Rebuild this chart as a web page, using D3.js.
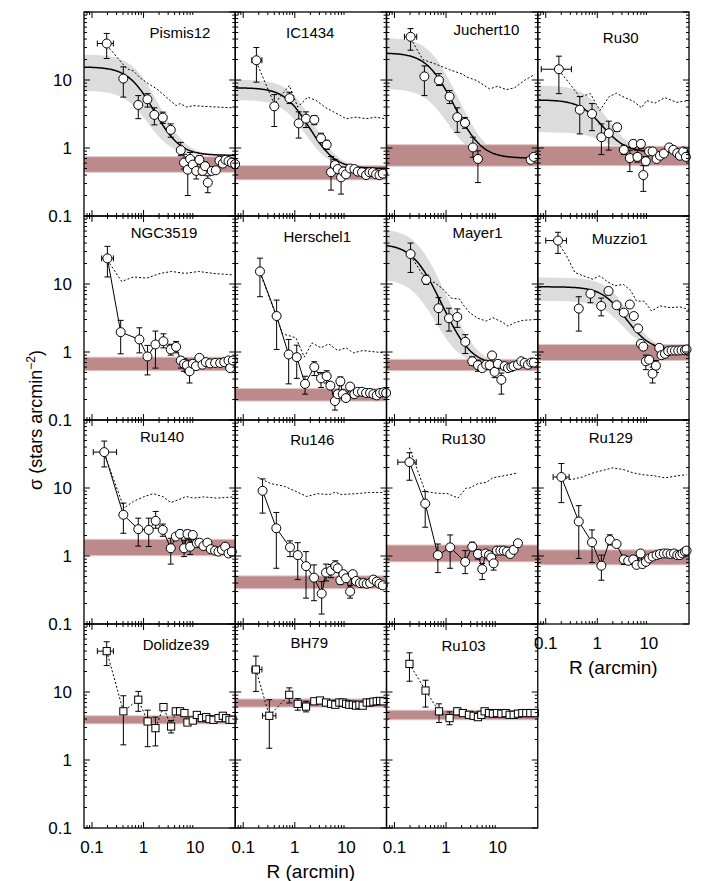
<!DOCTYPE html>
<html lang="en">
<head>
<meta charset="utf-8">
<title>Radial density profiles</title>
<style>
	body {
		margin: 0;
		background: #fff;
		font-family: Arial, "Liberation Sans", Helvetica, sans-serif;
	}
	.border { fill: none; stroke: black; stroke-width: 1.3; }
	.tick { stroke: black; stroke-width: 1; }
	.err { stroke: black; stroke-width: 1; fill: none; }
</style>
</head>
<body>
<div id="chart"></div>
<script src="https://cdn.jsdelivr.net/npm/d3@7"></script>
<script>

// cluster names, one panel each
var clusterNames = ["Pismis12", "IC1434", "Juchert10", "Ru30",
	"NGC3519", "Herschel1", "Mayer1", "Muzzio1",
	"Ru140", "Ru146", "Ru130", "Ru129",
	"Dolidze39", "BH79", "Ru103"];

// how each profile is drawn: King fit, joined points, or squares
var profileStyle = ["fit", "fit", "fit", "fit",
	"line", "line", "fit", "fit",
	"line", "line", "line", "line",
	"square", "square", "square"];

// radial bins R (arcmin)
var pointR = [
	[0.193, 0.405, 0.79, 1.19, 1.62, 2.36, 3.37, 5.27, 6.1, 7.2, 8.0, 9.0, 10.5, 12.1, 13.9, 15.6, 17.6, 21, 25.2, 29.7, 34.4, 38.8, 44.4, 51.5, 59.7],
	[0.18, 0.40, 0.79, 1.19, 1.65, 2.39, 3.22, 4.15, 5.04, 6.0, 6.8, 7.9, 8.7, 9.8, 11.8, 14.3, 16.6, 20.1, 24.1, 28, 32.5, 37.7, 43.8, 50.8],
	[0.205, 0.38, 0.73, 1.17, 1.65, 2.33, 3.32, 4.15, 43.8, 50],
	[0.18, 0.457, 0.79, 1.2, 1.67, 2.43, 3.27, 4.27, 4.96, 6.0, 7.0, 7.8, 8.7, 10.1, 11.8, 14.1, 16.4, 19.5, 24.8, 29.7, 35.5, 40, 46.4, 52.3],
	[0.199, 0.36, 0.83, 1.19, 1.7, 2.43, 3.37, 4.27, 5.27, 6.1, 6.9, 7.8, 9.0, 10.4, 12.1, 13.9, 16.1, 19.5, 24.4, 30.6, 36.6, 44.4, 47.8, 53.9],
	[0.211, 0.444, 0.76, 1.09, 1.58, 2.39, 3.22, 4.15, 4.89, 6.0, 6.8, 7.65, 8.5, 9.8, 11.8, 14.3, 16.6, 20.1, 24.1, 28.8, 33.4, 38.8, 45, 52.3, 59],
	[0.205, 0.412, 0.715, 1.14, 1.65, 2.36, 3.22, 4.15, 5.03, 6.0, 7.0, 7.8, 8.75, 10.1, 11.8, 13.7, 15.9, 18.4, 20.4, 24.8, 28.8, 33.4, 38.8, 45, 50],
	[0.173, 0.437, 0.736, 1.19, 1.65, 2.36, 3.27, 4.27, 5.1, 6.2, 7.0, 7.8, 8.75, 10.1, 11.8, 13.7, 15.9, 17.6, 20.5, 23.7, 27.6, 32, 37.1, 43, 50, 53.9],
	[0.173, 0.406, 0.79, 1.26, 1.72, 2.36, 3.37, 4.22, 5.1, 6.1, 7.1, 8.0, 9.0, 10.8, 12.1, 14.5, 17.3, 20.1, 24.4, 28.4, 33, 38.2, 44.4, 51.5],
	[0.237, 0.438, 0.806, 1.14, 1.65, 2.36, 3.32, 4.03, 5.03, 6.1, 6.8, 7.65, 8.75, 9.86, 11.8, 13.3, 15.4, 18.4, 21.4, 24.8, 28.8, 33.4, 38.8, 43.8, 50.8],
	[0.195, 0.394, 0.694, 1.2, 2.35, 3.22, 4.15, 5.03, 5.85, 6.8, 7.5, 8.37, 9.7, 11.3, 13.1, 15.2, 17.6, 20.4, 24.8],
	[0.201, 0.437, 0.79, 1.2, 1.75, 2.36, 3.27, 3.97, 4.96, 5.77, 6.9, 7.5, 8.75, 10.1, 11.8, 14.1, 16.4, 19.5, 22.7, 26.4, 30.6, 35.5, 40, 45, 50, 53.9],
	[0.193, 0.406, 0.79, 1.2, 1.7, 2.43, 3.42, 4.22, 5.1, 6.2, 7.1, 9.0, 10.8, 13.5, 16.4, 19, 22.7, 28.4, 34.4, 40, 46.4, 53],
	[0.176, 0.32, 0.78, 1.14, 1.65, 2.39, 3.08, 4.03, 5.04, 6.1, 7.3, 8.5, 9.9, 11.4, 13.3, 15.4, 17.9, 20.7, 24.8, 28.8, 33.4, 38.8, 45, 52.3],
	[0.195, 0.4, 0.73, 1.17, 1.65, 2.12, 2.78, 3.42, 4.15, 4.82, 5.6, 6.8, 8.1, 9.7, 11.8, 14.3, 17.1, 20.5, 24.8, 30.1, 36, 43, 52.3]
];

// stellar density sigma (stars arcmin^-2)
var pointS = [
	[34.4, 10.5, 4.3, 5.2, 3.07, 2.8, 1.85, 0.93, 0.61, 0.48, 0.69, 0.57, 0.46, 0.67, 0.46, 0.54, 0.31, 0.46, 0.47, 0.65, 0.59, 0.67, 0.64, 0.61, 0.58],
	[19.5, 4.1, 5.4, 2.3, 2.7, 2.6, 1.39, 1.12, 0.44, 0.56, 0.49, 0.37, 0.45, 0.41, 0.5, 0.49, 0.45, 0.44, 0.40, 0.44, 0.44, 0.41, 0.40, 0.42],
	[43.2, 11.3, 9.9, 5.7, 2.84, 2.34, 1.02, 0.69, 0.67, 0.74],
	[14.4, 3.65, 3.18, 1.44, 1.65, 2.02, 0.94, 0.71, 1.15, 0.74, 1.15, 0.40, 0.64, 0.89, 0.89, 0.69, 0.77, 0.83, 1.02, 0.94, 0.84, 0.77, 0.89, 0.74],
	[23.8, 1.96, 1.53, 0.86, 1.29, 1.44, 1.09, 1.19, 0.75, 0.67, 0.64, 0.52, 0.67, 0.62, 0.82, 0.65, 0.71, 0.68, 0.69, 0.69, 0.71, 0.75, 0.58, 0.75],
	[15.3, 3.38, 0.92, 0.84, 0.34, 0.6, 0.41, 0.44, 0.32, 0.19, 0.24, 0.37, 0.24, 0.21, 0.31, 0.24, 0.26, 0.26, 0.25, 0.25, 0.24, 0.23, 0.25, 0.255, 0.25],
	[27.6, 11.5, 4.4, 3.13, 3.27, 1.41, 0.73, 0.64, 0.58, 0.65, 0.64, 0.89, 0.51, 0.67, 0.39, 0.62, 0.58, 0.6, 0.62, 0.65, 0.73, 0.69, 0.65, 0.7, 0.7],
	[43.5, 4.35, 7.2, 4.75, 7.9, 4.87, 3.79, 5.0, 3.38, 2.22, 1.32, 1.2, 0.73, 0.77, 0.48, 0.63, 1.15, 0.9, 0.94, 1.03, 1.05, 1.05, 1.05, 1.06, 1.06, 1.09],
	[33.7, 4.04, 2.48, 2.42, 3.29, 2.42, 1.3, 1.93, 2.11, 1.3, 2.11, 1.37, 2.04, 1.54, 1.57, 1.4, 1.57, 1.26, 1.2, 1.16, 1.23, 1.37, 1.09, 1.16],
	[9.1, 2.56, 1.34, 1.03, 0.71, 0.48, 0.28, 0.57, 0.61, 0.71, 0.66, 0.44, 0.54, 0.47, 0.3, 0.54, 0.43, 0.40, 0.40, 0.39, 0.40, 0.45, 0.42, 0.39, 0.37],
	[24, 5.9, 1.03, 1.34, 0.82, 1.37, 1.07, 0.64, 1.09, 1.03, 0.95, 0.78, 1.2, 1.2, 1.2, 1.16, 1.07, 1.23, 1.54],
	[14.5, 3.22, 1.59, 0.72, 1.72, 1.5, 0.89, 0.85, 0.89, 0.74, 1.09, 0.76, 0.82, 0.92, 0.98, 1.03, 1.07, 1.09, 1.09, 1.07, 1.09, 1.03, 1.03, 1.09, 1.16, 1.2],
	[39.9, 5.2, 7.7, 3.69, 2.94, 6.0, 3.11, 5.2, 5.2, 4.9, 3.56, 3.8, 4.6, 4.13, 4.27, 4.0, 3.9, 4.13, 4.47, 4.13, 3.9, 3.9],
	[21.4, 4.47, 9.1, 6.7, 6.1, 7.3, 7.5, 7.0, 6.7, 6.5, 7.0, 7.0, 6.7, 6.5, 6.5, 6.3, 6.5, 6.3, 7.0, 7.0, 7.2, 7.3, 7.4, 7.3],
	[25.9, 10.5, 5.2, 4.13, 5.2, 4.9, 4.62, 4.47, 4.27, 4.62, 5.2, 4.9, 4.8, 4.9, 4.8, 4.9, 4.62, 4.62, 4.8, 4.9, 4.9, 4.9, 4.9]
];

// visible error bars: [point index, low, high]
var errBars = [
	[[0, 20.7, 48.4], [1, 5.6, 15.6], [2, 2.7, 5.9], [3, 4.0, 6.3], [4, 2.19, 3.9], [5, 2.3, 3.37], [6, 1.44, 2.26], [7, 0.77, 1.21], [8, 0.49, 0.81], [9, 0.2, 0.73], [10, 0.55, 0.86], [11, 0.47, 0.68], [12, 0.35, 0.59], [13, 0.58, 0.77], [14, 0.4, 0.53], [15, 0.47, 0.62], [16, 0.22, 0.39]],
	[[0, 9.3, 30], [1, 2.07, 6.1], [2, 4.5, 6.6], [3, 1.4, 3.4], [4, 2.0, 3.4], [5, 2.2, 3.0], [6, 1.21, 1.65], [7, 0.95, 1.3], [8, 0.24, 0.75], [9, 0.47, 0.68], [11, 0.21, 0.49], [12, 0.38, 0.52]],
	[[0, 27.4, 57], [1, 5.9, 16.1], [2, 8.3, 12.4], [3, 4.5, 7.0], [4, 1.7, 3.9], [5, 1.95, 2.8], [6, 0.73, 1.44], [7, 0.31, 0.91]],
	[[0, 6.3, 22.4], [1, 1.61, 5.7], [2, 1.8, 4.5], [3, 0.8, 2.26], [4, 0.93, 2.48], [5, 1.75, 2.3], [6, 0.8, 1.1], [7, 0.45, 0.93], [8, 1.0, 1.3], [9, 0.62, 0.93], [10, 0.98, 1.3], [11, 0.23, 0.55], [12, 0.55, 0.75]],
	[[0, 12.7, 35.8], [1, 0.94, 2.92], [2, 0.97, 2.27], [3, 0.46, 1.25], [4, 0.58, 2.03], [5, 1.15, 1.85], [6, 0.9, 1.3], [7, 0.97, 1.43], [8, 0.58, 0.84], [9, 0.52, 0.8], [10, 0.5, 0.76], [11, 0.35, 0.62]],
	[[0, 6.5, 24], [1, 1.09, 5.8], [2, 0.34, 1.53], [3, 0.41, 1.26], [4, 0.24, 0.44], [5, 0.45, 0.72], [6, 0.3, 0.5], [7, 0.35, 0.53], [9, 0.14, 0.235], [11, 0.32, 0.43]],
	[[0, 14.8, 40], [1, 9.9, 13.5], [2, 2.55, 6.3], [3, 2.03, 4.4], [4, 2.3, 4.3], [5, 0.95, 1.8], [6, 0.64, 0.85], [7, 0.52, 0.76], [10, 0.56, 0.74], [11, 0.8, 0.98], [12, 0.42, 0.62], [13, 0.58, 0.75], [14, 0.24, 0.49]],
	[[0, 28.2, 57.6], [1, 2.03, 6.5], [2, 5.3, 8.1], [3, 3.4, 6.2], [4, 6.9, 8.9], [12, 0.55, 0.9], [14, 0.35, 0.6], [15, 0.5, 0.75]],
	[[0, 20.4, 49], [1, 2.16, 6.0], [2, 1.4, 3.6], [3, 1.38, 3.6], [4, 2.56, 4.52], [5, 1.95, 2.95], [6, 0.76, 1.82], [8, 1.85, 2.4], [9, 0.98, 1.7], [10, 1.8, 2.4], [11, 1.05, 1.75]],
	[[0, 4.27, 13.6], [1, 0.66, 4.37], [2, 0.98, 1.67], [3, 0.45, 1.57], [4, 0.24, 1.16], [5, 0.22, 0.74], [6, 0.14, 0.42], [7, 0.43, 0.76], [8, 0.48, 0.75], [9, 0.57, 0.85], [11, 0.38, 0.5], [14, 0.24, 0.37]],
	[[0, 13, 33], [1, 2.65, 8.9], [2, 0.57, 1.5], [3, 0.66, 2.04], [4, 0.55, 1.2], [5, 1.2, 1.6], [6, 0.9, 1.25], [7, 0.45, 0.78], [11, 0.62, 0.95]],
	[[0, 6.1, 22.9], [1, 0.92, 5.5], [2, 0.8, 2.42], [3, 0.44, 1.03], [4, 1.45, 2.05], [6, 0.75, 1.02], [8, 0.75, 1.0]],
	[[0, 24.5, 54.8], [1, 1.67, 8.8], [2, 5.2, 10.2], [3, 1.57, 5.4], [4, 1.61, 4.27], [5, 5.5, 6.5], [6, 2.5, 3.8]],
	[[0, 10.2, 33.7], [1, 1.49, 7.7], [2, 6.9, 11.5], [3, 5.4, 8.0], [4, 5.1, 7.3]],
	[[0, 14.4, 37.7], [1, 6.0, 14.9], [2, 3.56, 6.7], [3, 3.3, 5.1], [4, 4.6, 5.8]]
];

// horizontal (bin width) bars: [point index, low R, high R]
var xErrBars = [
	[[0, 0.127, 0.26]], [[0, 0.147, 0.23]], [[0, 0.156, 0.27]], [[0, 0.082, 0.315]],
	[[0, 0.154, 0.26]], [[0, 0.19, 0.235]], [[0, 0.18, 0.232]], [[0, 0.1, 0.252]],
	[[0, 0.106, 0.3]], [], [[0, 0.116, 0.264]], [[0, 0.139, 0.284]],
	[[0, 0.127, 0.26]], [[0, 0.147, 0.23], [1, 0.237, 0.43]], []
];

// dotted comparison profile
var dotR = [
	[0.193, 0.471, 0.635, 0.855, 1.24, 1.8, 2.43, 3.27, 4.28, 5.1, 6.9, 9.3, 14.5, 26.4, 55.5],
	[0.18, 0.4, 0.78, 1.14, 1.78, 2.58, 4.03, 6.3, 9.9, 15.4, 24.1, 37.7, 54.7],
	[0.205, 0.355, 0.644, 1.17, 2.12, 2.46, 3.85, 7.0, 10.1, 14.7, 21.4, 33.4, 52.3],
	[0.18, 0.292, 0.457, 0.736, 1.12, 1.7, 2.36, 3.42, 4.96, 7.2, 9.0, 13.1, 20.5, 34.4, 60],
	[0.199, 0.377, 0.635, 1.15, 2.09, 3.52, 6.4, 11.6, 22.7, 55.5],
	[0.211, 0.444, 0.58, 1.05, 1.53, 2.15, 3.22, 4.54, 6.8, 9.9, 13.7, 20.7, 37.7, 54.7],
	[0.205, 0.412, 0.6, 0.87, 1.26, 1.83, 2.12, 2.86, 4.15, 6.0, 8.1, 11.8, 15.9, 21.4, 31, 52.3],
	[0.173, 0.252, 0.366, 0.531, 0.806, 1.12, 1.55, 2.19, 3.18, 4.4, 5.77, 8.1, 11.3, 16.4, 25.6, 40, 60],
	[0.173, 0.418, 0.635, 0.99, 1.55, 2.43, 3.37, 4.75, 6.7, 9.3, 14.5, 26.4, 55.5],
	[0.19, 0.237, 0.344, 0.625, 1.05, 1.7, 2.77, 4.68, 6.1, 7.9, 15.4, 28, 54.7],
	[0.195, 0.394, 0.644, 1.09, 1.7, 2.46, 2.86, 4.15, 6.0, 8.1, 11.8, 17.1, 24.8],
	[0.201, 0.315, 0.515, 0.83, 1.3, 1.97, 3.18, 4.96, 7.5, 12.1, 20.5, 32, 53.9],
	null, null, null
];
var dotS = [
	[32.5, 14.7, 13.6, 10.8, 8.8, 7.4, 6.1, 5.0, 4.2, 4.5, 4.0, 4.2, 4.1, 4.0, 3.9],
	[18.5, 4.4, 8.3, 4.0, 5.6, 5.0, 3.9, 3.25, 2.7, 2.84, 2.7, 2.84, 2.7],
	[40.8, 20, 17, 14.2, 12.1, 11.1, 9.9, 7.4, 8.1, 7.2, 7.7, 9.9, 12.1],
	[13.9, 8.8, 5.6, 6.3, 3.56, 5.7, 6.4, 5.5, 4.9, 3.9, 5.0, 4.57, 5.5, 4.7, 5.0],
	[22.5, 10.9, 12.7, 12.2, 14.3, 15.3, 14.3, 15.3, 14.3, 13.6],
	[14.8, 3.27, 1.85, 1.62, 0.84, 1.36, 1.15, 1.32, 1.05, 1.15, 0.97, 1.05, 1.0, 0.97],
	[26.1, 11.4, 10.5, 8.4, 6.2, 6.0, 5.0, 3.79, 3.13, 2.85, 3.19, 2.79, 2.4, 2.7, 2.92, 3.0],
	[41, 26.1, 14.8, 13.2, 11.8, 13.2, 10.9, 9.4, 9.9, 8.1, 5.6, 5.6, 4.0, 4.75, 4.5, 4.6, 4.2],
	[32.2, 5.06, 6.35, 7.4, 8.25, 7.4, 6.1, 6.7, 7.5, 7.1, 7.4, 7.1, 7.4],
	[14.4, 13.3, 11.6, 10.6, 8.9, 7.5, 8.25, 8.0, 8.7, 8.0, 8.25, 8.6, 8.6],
	[39, 8.9, 8.4, 8.25, 7.1, 10, 10, 11.6, 12.1, 14.1, 14.9, 15.7, 16.7],
	[14.5, 13.3, 14.5, 16.7, 18.2, 19.8, 18.7, 16.7, 15.7, 15.2, 14.1, 14.9, 15.7],
	null, null, null
];

// background density level (low, high)
var bgBand = [
	[0.44, 0.745], [0.34, 0.55], [0.54, 1.12], [0.55, 1.06],
	[0.53, 0.84], [0.19, 0.29], [0.53, 0.78], [0.75, 1.29],
	[1.01, 1.76], [0.33, 0.51], [0.82, 1.45], [0.74, 1.23],
	[3.4, 4.47], [6.0, 7.9], [3.9, 5.4]
];

// King fits: [sigma0, Rc, sigmaBg, sigma0 high, Rc high, sigma0 low, Rc low]
var kingFit = [
	[14.8, 0.76, 0.78, 22.9, 0.85, 6.2, 0.7],
	[7.2, 0.98, 0.5, 9.6, 1.1, 4.6, 0.9],
	[24.3, 0.59, 0.71, 41, 0.62, 6.7, 0.6],
	[4.24, 0.81, 0.86, 7.45, 0.9, 0.85, 1.2],
	null, null,
	[38, 0.3, 0.65, 64, 0.33, 11.2, 0.3],
	[8.05, 2.1, 1.05, 11.4, 2.3, 4.6, 2.0],
	null, null, null, null, null, null, null
];

var xTickLabels = [0.1, 1, 10];
var yTickLabels = [0.1, 1, 10];

// layout
var width = 702, height = 881;
var left = 84, top0 = 12, pw = 151.25, ph = 204;
var labelDx = [96, 75, 100, 83, 80, 82, 91, 82, 78, 77, 77, 73, 92, 74, 77];
var labelDy = [26, 26, 23, 31, 22, 26, 22, 28, 22, 25, 24, 23, 26, 24, 27];

var x = d3.scaleLog().domain([0.07, 60]).range([0, pw]);
var y = d3.scaleLog().domain([0.1, 100]).range([ph, 0]);

var svg = d3.select("#chart").append("svg")
	.attr("width", width)
	.attr("height", height);
var defs = svg.append("defs");

function panelX(k) { return left + (k % 4) * pw; }
function panelY(k) { return top0 + Math.floor(k / 4) * ph; }

function king(s0, rc, bg, r) {
	return bg + s0 / (1 + (r / rc) * (r / rc));
}

// sample radii for the model curves
var curveR = d3.range(0, 161).map(function(i) {
	return 0.07 * Math.pow(60 / 0.07, i / 160);
});

var line = d3.line()
	.x(function(d) { return x(d[0]); })
	.y(function(d) { return y(d[1]); });

var layerBack = svg.append("g");
var layerData = svg.append("g");
var layerFrame = svg.append("g");

clusterNames.forEach(function(name, k) {
	var tx = panelX(k), ty = panelY(k);

	defs.append("clipPath").attr("id", "clip" + k)
		.append("rect").attr("width", pw).attr("height", ph);

	var back = layerBack.append("g")
		.attr("transform", "translate(" + tx + "," + ty + ")")
		.attr("clip-path", "url(#clip" + k + ")");

	var fit = kingFit[k];
	if (fit) {
		var area = d3.area()
			.x(function(r) { return x(r); })
			.y0(function(r) { return y(king(fit[5], fit[6], fit[2], r)); })
			.y1(function(r) { return y(king(fit[3], fit[4], fit[2], r)); });
		back.append("path").attr("d", area(curveR)).attr("fill", "#dcdcdc");
	}

	var band = bgBand[k];
	back.append("rect")
		.attr("x", 0).attr("width", pw)
		.attr("y", y(band[1])).attr("height", y(band[0]) - y(band[1]))
		.attr("fill", "#bc8a8a")
		.attr("stroke", "#e2c9c9").attr("stroke-width", 1);

	if (fit) {
		back.append("path")
			.attr("d", line(curveR.map(function(r) { return [r, king(fit[0], fit[1], fit[2], r)]; })))
			.attr("fill", "none").attr("stroke", "black").attr("stroke-width", 1.5);
	}

	var g = layerData.append("g").attr("transform", "translate(" + tx + "," + ty + ")");
	var pts = pointR[k].map(function(r, i) { return [r, pointS[k][i]]; });

	if (dotR[k]) {
		g.append("path")
			.attr("d", line(dotR[k].map(function(r, i) { return [r, dotS[k][i]]; })))
			.attr("fill", "none").attr("stroke", "black").attr("stroke-width", 1)
			.attr("stroke-dasharray", "2,2");
	}
	if (profileStyle[k] == "line") {
		g.append("path").attr("d", line(pts))
			.attr("fill", "none").attr("stroke", "black").attr("stroke-width", 1);
	}
	if (profileStyle[k] == "square") {
		g.append("path").attr("d", line(pts))
			.attr("fill", "none").attr("stroke", "black").attr("stroke-width", 1)
			.attr("stroke-dasharray", "2,2");
	}

	errBars[k].forEach(function(e) {
		var cx = x(pointR[k][e[0]]);
		g.append("path").attr("class", "err")
			.attr("d", "M" + cx + "," + y(e[1]) + "V" + y(e[2]) +
				"M" + (cx - 3) + "," + y(e[1]) + "h6" +
				"M" + (cx - 3) + "," + y(e[2]) + "h6");
	});
	xErrBars[k].forEach(function(e) {
		var cy = y(pointS[k][e[0]]);
		g.append("path").attr("class", "err")
			.attr("d", "M" + x(e[1]) + "," + cy + "H" + x(e[2]) +
				"M" + x(e[1]) + "," + (cy - 3) + "v6" +
				"M" + x(e[2]) + "," + (cy - 3) + "v6");
	});

	if (profileStyle[k] == "square") {
		g.selectAll("rect.pt").data(pts).enter().append("rect")
			.attr("x", function(d) { return x(d[0]) - 3.6; })
			.attr("y", function(d) { return y(d[1]) - 3.6; })
			.attr("width", 7.2).attr("height", 7.2)
			.attr("fill", "white").attr("stroke", "black").attr("stroke-width", 1);
	} else {
		g.selectAll("circle").data(pts).enter().append("circle")
			.attr("cx", function(d) { return x(d[0]); })
			.attr("cy", function(d) { return y(d[1]); })
			.attr("r", 4.5)
			.attr("fill", "white").attr("stroke", "black").attr("stroke-width", 1);
	}

	// frame, ticks and labels
	var f = layerFrame.append("g").attr("transform", "translate(" + tx + "," + ty + ")");
	f.append("rect").attr("class", "border").attr("width", pw).attr("height", ph);

	var yt = [];
	[0.1, 1, 10].forEach(function(p) {
		for (var m = 1; m < 10; m++) yt.push([m * p, m == 1]);
	});
	yt.push([100, true]);
	yt.forEach(function(t) {
		var ty2 = y(t[0]), len = t[1] ? 6 : 3;
		f.append("line").attr("class", "tick").attr("x1", 0).attr("x2", len).attr("y1", ty2).attr("y2", ty2);
		f.append("line").attr("class", "tick").attr("x1", pw).attr("x2", pw - len).attr("y1", ty2).attr("y2", ty2);
	});

	var xt = [[0.08, false], [0.09, false]];
	[0.1, 1].forEach(function(p) {
		for (var m = 1; m < 10; m++) xt.push([m * p, m == 1]);
	});
	xt.forEach(function(t) {
		var tx2 = x(t[0]), len = t[1] ? 6 : 3;
		f.append("line").attr("class", "tick").attr("x1", tx2).attr("x2", tx2).attr("y1", 0).attr("y2", len);
		f.append("line").attr("class", "tick").attr("x1", tx2).attr("x2", tx2).attr("y1", ph).attr("y2", ph - len);
	});

	f.append("text")
		.attr("x", labelDx[k]).attr("y", labelDy[k])
		.attr("text-anchor", "middle")
		.style("font-size", "15px")
		.text(name);

	if (k % 4 == 0) {
		yTickLabels.forEach(function(v) {
			f.append("text")
				.attr("x", -12).attr("y", y(v)).attr("dy", "0.35em")
				.attr("text-anchor", "end")
				.style("font-size", "17px")
				.text(v);
		});
	}
	if (k >= 11) {
		xTickLabels.forEach(function(v) {
			f.append("text")
				.attr("x", x(v)).attr("y", ph + 25)
				.attr("text-anchor", "middle")
				.style("font-size", "17px")
				.text(v);
		});
	}
});

// axis titles
[13, 11].forEach(function(k) {
	svg.append("text")
		.attr("x", panelX(k) + pw / 2)
		.attr("y", panelY(k) + ph + 50)
		.attr("text-anchor", "middle")
		.style("font-size", "19px")
		.text("R (arcmin)");
});

var ytitle = svg.append("text")
	.attr("transform", "translate(42," + (top0 + 2 * ph) + ") rotate(-90)")
	.attr("text-anchor", "middle")
	.style("font-size", "18px");
ytitle.append("tspan").text("σ (stars arcmin");
ytitle.append("tspan").attr("dy", -7).style("font-size", "12px").text("−2");
ytitle.append("tspan").attr("dy", 7).text(")");

</script>
</body>
</html>
